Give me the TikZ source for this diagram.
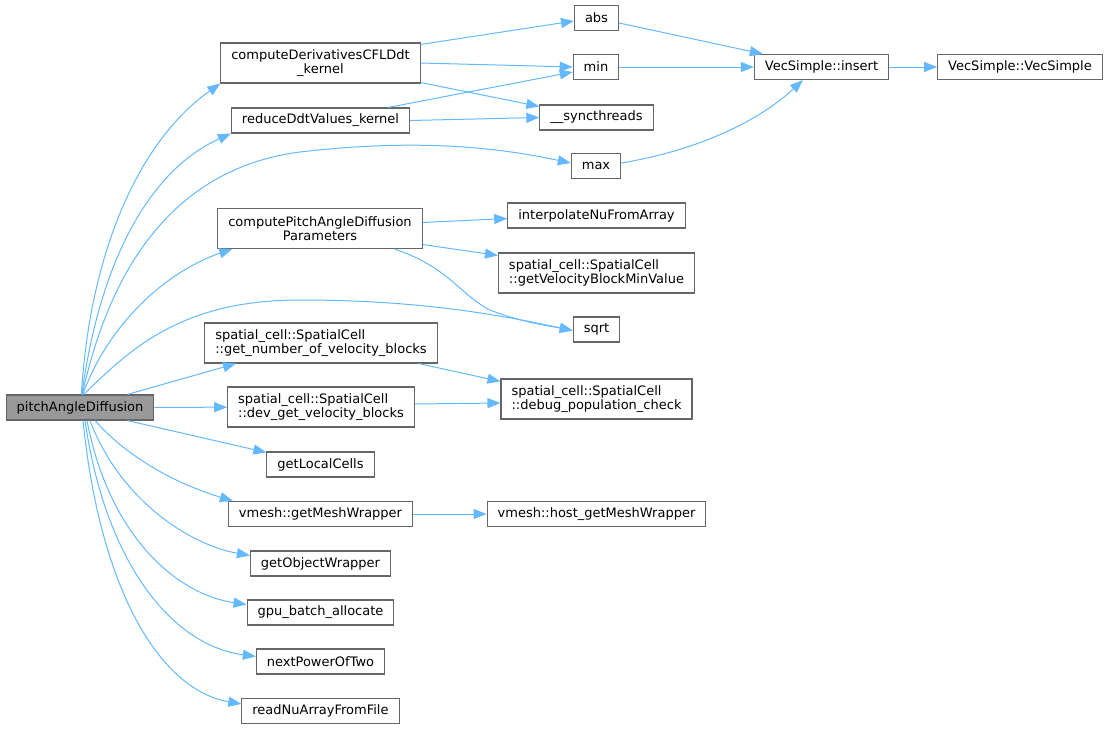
\documentclass[tikz,border=0pt]{standalone}
\usepackage{fontspec}
\setmainfont{DejaVu Sans}
\usetikzlibrary{arrows.meta}
\definecolor{callblue}{HTML}{63B8FF}
\definecolor{boxgray}{HTML}{666666}
\definecolor{rootgray}{HTML}{999999}
\tikzset{
  fn/.style={draw=boxgray, line width=1.1pt, fill=white, inner xsep=10.5pt, inner ysep=0pt,
    minimum height=25pt, font=\fontsize{13}{14.5}\selectfont},
  fnn/.style={fn, minimum height=40pt},
  call/.style={callblue, line width=1pt, -{Triangle[length=13pt,width=10pt]}},
}
\begin{document}
\begin{tikzpicture}[x=1pt,y=1pt]
\useasboundingbox (0,0) rectangle (1109,-729);
% functions
\node[fn, fill=rootgray] (pad) at (80,-407.5) {pitchAngleDiffusion};
\node[fnn, align=center] (cfl) at (320.5,-63) {computeDerivativesCFLDdt\\\_kernel};
\node[fn] (rdv) at (320.5,-120.5) {reduceDdtValues\_kernel};
\node[fn] (abs) at (596.5,-18) {abs};
\node[fn] (min) at (596,-67) {min};
\node[fn] (sync) at (596.5,-117.5) {\_\_syncthreads};
\node[fn] (max) at (596,-166) {max};
\node[fn] (ins) at (821.5,-67) {VecSimple::insert};
\node[fn] (vs) at (1020,-67) {VecSimple::VecSimple};
\node[fnn, align=center] (cpad) at (320,-228.5) {computePitchAngleDiffusion\\Parameters};
\node[fn] (interp) at (596.5,-215.5) {interpolateNuFromArray};
\node[fnn, align=left] (minval) at (596.5,-273) {spatial\_cell::SpatialCell\\::getVelocityBlockMinValue};
\node[fn] (sqrt) at (596.5,-329.5) {sqrt};
\node[fnn, align=left] (nblk) at (321,-343) {spatial\_cell::SpatialCell\\::get\_number\_of\_velocity\_blocks};
\node[fnn, align=left] (dblk) at (321,-407) {spatial\_cell::SpatialCell\\::dev\_get\_velocity\_blocks};
\node[fnn, align=left] (check) at (596.5,-399) {spatial\_cell::SpatialCell\\::debug\_population\_check};
\node[fn] (cells) at (320.5,-464.5) {getLocalCells};
\node[fn] (mesh) at (320.5,-514) {vmesh::getMeshWrapper};
\node[fn] (hmesh) at (596.5,-514) {vmesh::host\_getMeshWrapper};
\node[fn] (obj) at (320.5,-563.5) {getObjectWrapper};
\node[fn] (batch) at (320.5,-612.5) {gpu\_batch\_allocate};
\node[fn] (npow) at (320.5,-661.5) {nextPowerOfTwo};
\node[fn] (readnu) at (320.5,-711) {readNuArrayFromFile};
% calls from pitchAngleDiffusion
\draw[call] (pad.84) .. controls (90,-250) and (140,-140) .. (cfl.south west);
\draw[call] (pad.82) .. controls (100,-260) and (150,-170) .. (rdv.south west);
\draw[call] (pad.80) .. controls (105,-290) and (160,-170) .. (300,-152)
  .. controls (420,-138) and (500,-148) .. ([yshift=3pt]max.west);
\draw[call] (pad.78) .. controls (110,-320) and (170,-270) .. ([xshift=15pt]cpad.south west);
\draw[call] (pad.75) .. controls (130,-350) and (180,-300) .. (300,-300)
  .. controls (420,-300) and (500,-315) .. ([yshift=-1pt]sqrt.west);
\draw[call] ([xshift=-27pt]pad.north east) -- ([xshift=-85pt]nblk.south);
\draw[call] (pad) -- (dblk);
\draw[call] ([xshift=-27pt]pad.south east) -- ([yshift=-1pt]cells.north west);
\draw[call] ([xshift=15pt]pad.south) .. controls (130,-460) and (180,-485) .. ([xshift=5pt]mesh.north west);
\draw[call] ([xshift=10pt]pad.south) .. controls (120,-500) and (190,-545) .. ([yshift=-5pt]obj.north west);
\draw[call] ([xshift=7pt]pad.south) .. controls (110,-540) and (180,-595) .. ([yshift=-5pt]batch.north west);
\draw[call] ([xshift=5pt]pad.south) .. controls (105,-560) and (170,-645) .. ([yshift=-8pt]npow.north west);
\draw[call] ([xshift=3pt]pad.south) .. controls (100,-590) and (160,-690) .. ([yshift=-6pt]readnu.north west);
% other calls
\draw[call] ([yshift=-2pt]cfl.north east) -- ([yshift=-3pt]abs.west);
\draw[call] (cfl.east) -- (min.west);
\draw[call] ([yshift=1pt]cfl.south east) -- ([yshift=-2pt]sync.north west);
\draw[call] ([xshift=-22pt]rdv.north east) -- ([yshift=-5pt]min.west);
\draw[call] (rdv.east) -- (sync.west);
\draw[call] ([yshift=-5pt]abs.east) -- ([xshift=9pt]ins.north west);
\draw[call] (min.east) -- (ins.west);
\draw[call] ([yshift=3pt]max.east) .. controls (700,-150) and (760,-120) .. ([xshift=49pt]ins.south west);
\draw[call] (ins) -- (vs);
\draw[call] ([yshift=6pt]cpad.east) -- ([yshift=-3pt]interp.west);
\draw[call] ([yshift=-16pt]cpad.east) -- ([yshift=-3pt]minval.north west);
\draw[call] ([xshift=-28pt]cpad.south east) .. controls (450,-268) and (460,-295) .. (490,-310)
  .. controls (520,-322) and (550,-326) .. ([yshift=-1pt]sqrt.west);
\draw[call] ([xshift=-19pt]nblk.south east) -- ([yshift=-3pt]check.north west);
\draw[call] ([yshift=3pt]dblk.east) -- ([yshift=-4pt]check.west);
\draw[call] (mesh) -- (hmesh);
\end{tikzpicture}
\end{document}
